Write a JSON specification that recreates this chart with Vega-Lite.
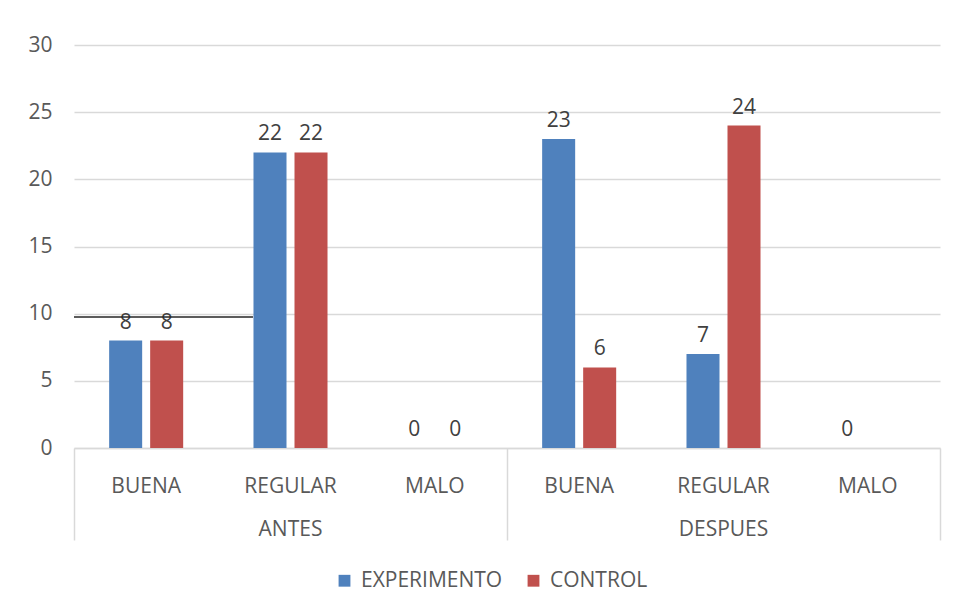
{
  "$schema": "https://vega.github.io/schema/vega-lite/v6.json",
  "width": 866,
  "height": 403,
  "autosize": "none",
  "padding": {"left": 74, "top": 45, "right": 16, "bottom": 159},
  "background": "white",
  "config": {
    "view": {"stroke": null},
    "font": "Open Sans",
    "axis": {"labelFont": "Open Sans", "labelFontSize": 21, "labelColor": "#595959"}
  },
  "datasets": {
    "bars": [
      {"key": "ANTES|BUENA", "serie": "EXPERIMENTO", "valor": 8},
      {"key": "ANTES|BUENA", "serie": "CONTROL", "valor": 8},
      {"key": "ANTES|REGULAR", "serie": "EXPERIMENTO", "valor": 22},
      {"key": "ANTES|REGULAR", "serie": "CONTROL", "valor": 22},
      {"key": "ANTES|MALO", "serie": "EXPERIMENTO", "valor": 0},
      {"key": "ANTES|MALO", "serie": "CONTROL", "valor": 0},
      {"key": "DESPUES|BUENA", "serie": "EXPERIMENTO", "valor": 23},
      {"key": "DESPUES|BUENA", "serie": "CONTROL", "valor": 6},
      {"key": "DESPUES|REGULAR", "serie": "EXPERIMENTO", "valor": 7},
      {"key": "DESPUES|REGULAR", "serie": "CONTROL", "valor": 24},
      {"key": "DESPUES|MALO", "serie": "EXPERIMENTO", "valor": 0}
    ],
    "stray": [
      {"x1": "ANTES|BUENA", "x2": "ANTES|REGULAR", "y": 9.75}
    ]
  },
  "data": {"name": "bars"},
  "layer": [
    {
      "mark": {"type": "bar"},
      "encoding": {
        "x": {
          "field": "key", "type": "nominal",
          "scale": {"domain": ["ANTES|BUENA", "ANTES|REGULAR", "ANTES|MALO", "DESPUES|BUENA", "DESPUES|REGULAR", "DESPUES|MALO"], "paddingInner": 0, "paddingOuter": 0},
          "axis": {"orient": "bottom", "title": null, "labelExpr": "split(datum.value, '|')[1]", "labelAngle": 0, "ticks": false, "tickSize": 0, "labelPadding": 38, "labelBaseline": "middle", "domainColor": "#d9d9d9", "domainWidth": 1.5, "grid": false, "labelOverlap": false}
        },
        "xOffset": {
          "field": "serie", "type": "nominal",
          "scale": {"domain": ["EXPERIMENTO", "CONTROL"], "paddingInner": 0.195, "paddingOuter": 0.857}
        },
        "y": {
          "field": "valor", "type": "quantitative",
          "scale": {"domain": [0, 30], "nice": false},
          "axis": {"title": null, "values": [0, 5, 10, 15, 20, 25, 30], "domain": false, "ticks": false, "tickSize": 0, "labelPadding": 22, "gridColor": "#d9d9d9", "gridWidth": 1.5}
        },
        "color": {
          "field": "serie", "type": "nominal",
          "scale": {"domain": ["EXPERIMENTO", "CONTROL"], "range": ["#4f81bd", "#c0504d"]},
          "legend": {"title": null, "orient": "none", "legendX": 260, "legendY": 525, "direction": "horizontal", "symbolType": "square", "symbolSize": 140, "symbolStrokeWidth": 0, "labelFont": "Open Sans", "labelFontSize": 21, "labelColor": "#595959", "columnPadding": 20, "labelOffset": 6}
        }
      }
    },
    {
      "mark": {"type": "text", "baseline": "bottom", "dy": -8, "font": "Open Sans", "fontSize": 21, "color": "#404040"},
      "encoding": {
        "x": {"field": "key", "type": "nominal", "axis": null},
        "xOffset": {"field": "serie", "type": "nominal"},
        "y": {"field": "valor", "type": "quantitative"},
        "text": {"field": "valor", "type": "quantitative"}
      }
    },
    {
      "mark": {"type": "text", "opacity": 0},
      "encoding": {
        "x": {
          "field": "key", "type": "nominal",
          "axis": {"orient": "bottom", "title": null, "domain": false, "ticks": false, "tickSize": 0, "labelAngle": 0, "labelPadding": 81, "labelBaseline": "middle", "labelOverlap": false, "labelExpr": "datum.value == 'ANTES|REGULAR' ? 'ANTES' : (datum.value == 'DESPUES|REGULAR' ? 'DESPUES' : '')"}
        },
        "text": {"value": ""}
      }
    },
    {
      "mark": {"type": "text", "opacity": 0},
      "encoding": {
        "x": {
          "field": "key", "type": "nominal",
          "axis": {"orient": "bottom", "title": null, "domain": false, "labels": false, "ticks": true, "tickSize": 92, "tickColor": "#d9d9d9", "tickWidth": 1.5, "bandPosition": 0, "values": ["ANTES|BUENA", "DESPUES|BUENA"]}
        },
        "text": {"value": ""}
      }
    },
    {
      "mark": {"type": "text", "opacity": 0},
      "encoding": {
        "x": {
          "field": "key", "type": "nominal",
          "axis": {"orient": "bottom", "title": null, "domain": false, "labels": false, "ticks": true, "tickSize": 92, "tickColor": "#d9d9d9", "tickWidth": 1.5, "bandPosition": 1, "values": ["DESPUES|MALO"]}
        },
        "text": {"value": ""}
      }
    },
    {
      "data": {"name": "stray"},
      "mark": {"type": "rule", "color": "#262626", "strokeWidth": 1.5},
      "encoding": {
        "x": {"field": "x1", "type": "nominal", "bandPosition": 0, "axis": null},
        "x2": {"field": "x2", "bandPosition": 0.24},
        "y": {"field": "y", "type": "quantitative"}
      }
    }
  ],
  "resolve": {"axis": {"x": "independent"}}
}
